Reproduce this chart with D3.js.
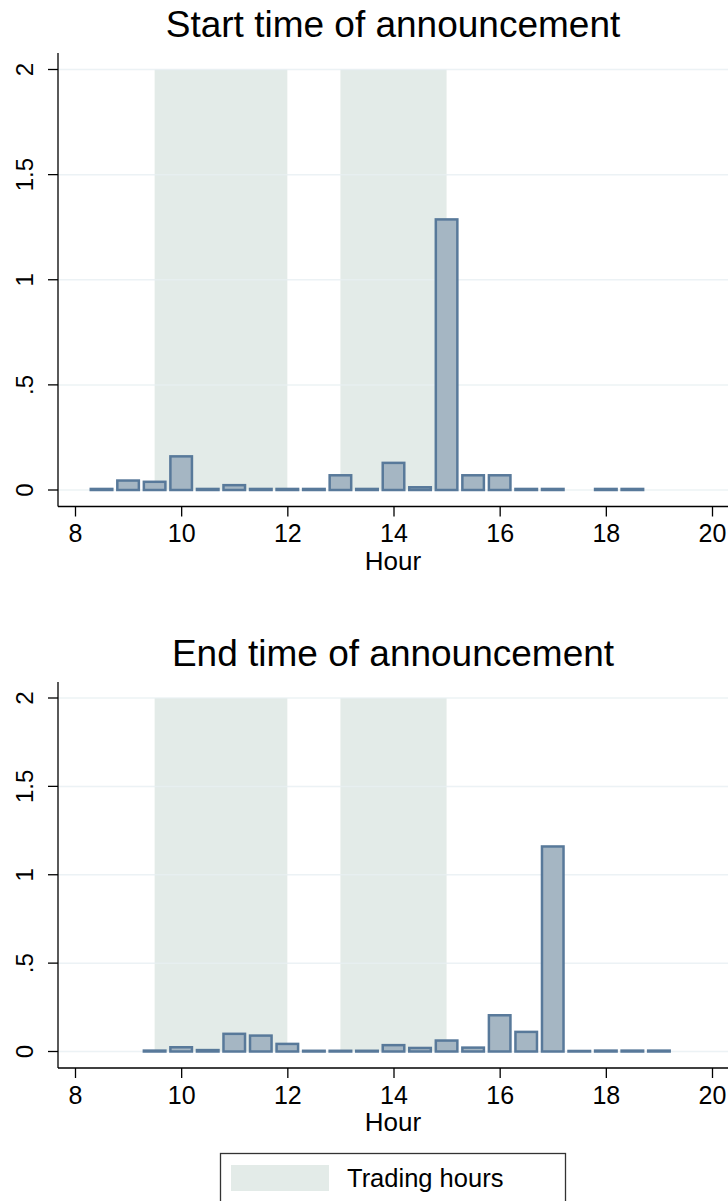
<!DOCTYPE html>
<html>
<head>
<meta charset="utf-8">
<script src="https://cdn.jsdelivr.net/npm/d3@7"></script>
<style>
  body { margin: 0; background: #fff; }
  text { font-family: "Liberation Sans", Arial, Helvetica, sans-serif; fill: #000; }
</style>
</head>
<body>
<div id="chart"></div>
<script>
// bins are half-hour wide, values are densities
const startHours = [8.5, 9, 9.5, 10, 10.5, 11, 11.5, 12, 12.5, 13, 13.5, 14, 14.5, 15, 15.5, 16, 16.5, 17, 18, 18.5];
const startDensity = [0.005, 0.045, 0.039, 0.16, 0.005, 0.023, 0.005, 0.005, 0.005, 0.07, 0.005, 0.129, 0.013, 1.287, 0.07, 0.07, 0.005, 0.005, 0.005, 0.005];

const endHours = [9.5, 10, 10.5, 11, 11.5, 12, 12.5, 13, 13.5, 14, 14.5, 15, 15.5, 16, 16.5, 17, 17.5, 18, 18.5, 19];
const endDensity = [0.005, 0.024, 0.008, 0.1, 0.09, 0.043, 0.004, 0.004, 0.004, 0.036, 0.02, 0.062, 0.022, 0.205, 0.111, 1.16, 0.003, 0.005, 0.005, 0.005];

const tradingStart = [9.5, 13];
const tradingEnd = [12, 15];

const xTicks = [8, 10, 12, 14, 16, 18, 20];
const yTicks = [0, 0.5, 1, 1.5, 2];
const yTickLabels = ["0", ".5", "1", "1.5", "2"];

const width = 728;
const height = 1201;
const binWidth = 0.5;

const shadeColor = "#e3ebe8";
const gridColor = "#e8f0f3";
const barFill = "#a5b6c3";
const barStroke = "#58799a";

const svg = d3.select("#chart")
  .append("svg")
  .attr("width", width)
  .attr("height", height);

const x = d3.scaleLinear().domain([8, 20]).range([75, 712]);

const panels = [
  { title: "Start time of announcement", titleY: 37, hours: startHours, values: startDensity,
    y: d3.scaleLinear().domain([0, 2]).range([490, 69.5]), top: 53, bottom: 506.5 },
  { title: "End time of announcement", titleY: 666, hours: endHours, values: endDensity,
    y: d3.scaleLinear().domain([0, 2]).range([1051.5, 698]), top: 682, bottom: 1068 }
];

panels.forEach(function (p) {
  const g = svg.append("g");
  const y = p.y;

  // trading hours shading
  g.selectAll("rect.shade")
    .data(tradingStart.map((s, i) => [s, tradingEnd[i]]))
    .join("rect")
    .attr("class", "shade")
    .attr("x", (d) => x(d[0]))
    .attr("width", (d) => x(d[1]) - x(d[0]))
    .attr("y", y(2))
    .attr("height", y(0) - y(2))
    .attr("fill", shadeColor);

  // grid
  g.selectAll("line.grid")
    .data(yTicks)
    .join("line")
    .attr("class", "grid")
    .attr("x1", 58)
    .attr("x2", width)
    .attr("y1", (d) => y(d))
    .attr("y2", (d) => y(d))
    .attr("stroke", gridColor)
    .attr("stroke-width", 1.5)
    .attr("opacity", 0.8);

  // bars
  g.selectAll("rect.bar")
    .data(p.hours.map((h, i) => ({ h: h, v: p.values[i] })))
    .join("rect")
    .attr("class", "bar")
    .attr("x", (d) => x(d.h - binWidth / 2) + 2.5)
    .attr("width", (d) => x(d.h + binWidth / 2) - x(d.h - binWidth / 2) - 5)
    .attr("y", (d) => y(d.v))
    .attr("height", (d) => y(0) - y(d.v))
    .attr("fill", barFill)
    .attr("stroke", barStroke)
    .attr("stroke-width", 2.5);

  // y axis
  g.append("line")
    .attr("x1", 58).attr("x2", 58)
    .attr("y1", p.top).attr("y2", p.bottom)
    .attr("stroke", "#000").attr("stroke-width", 1.3);

  g.selectAll("line.ytick")
    .data(yTicks)
    .join("line")
    .attr("class", "ytick")
    .attr("x1", 48).attr("x2", 58)
    .attr("y1", (d) => y(d)).attr("y2", (d) => y(d))
    .attr("stroke", "#000").attr("stroke-width", 1.3);

  g.selectAll("text.ylab")
    .data(yTicks)
    .join("text")
    .attr("class", "ylab")
    .attr("transform", (d) => `translate(33,${y(d)}) rotate(-90)`)
    .attr("text-anchor", "middle")
    .style("font-size", "24px")
    .text((d, i) => yTickLabels[i]);

  // x axis
  const xAxis = d3.axisBottom(x)
    .tickValues(xTicks)
    .tickSize(10)
    .tickPadding(8)
    .tickFormat(d3.format("d"));

  const ax = g.append("g")
    .attr("transform", `translate(0,${p.bottom})`)
    .call(xAxis);
  ax.select(".domain").remove();
  ax.selectAll(".tick line").attr("stroke", "#000").attr("stroke-width", 1.3);
  ax.selectAll(".tick text")
    .attr("fill", "#000")
    .style("font-size", "25px")
    .style("font-family", '"Liberation Sans", Arial, Helvetica, sans-serif');

  g.append("line")
    .attr("x1", 58).attr("x2", width)
    .attr("y1", p.bottom).attr("y2", p.bottom)
    .attr("stroke", "#000").attr("stroke-width", 1.3);

  g.append("text")
    .attr("x", 393)
    .attr("y", p.bottom + 63)
    .attr("text-anchor", "middle")
    .style("font-size", "26px")
    .text("Hour");

  // title
  g.append("text")
    .attr("x", 393)
    .attr("y", p.titleY)
    .attr("text-anchor", "middle")
    .style("font-size", "37px")
    .text(p.title);
});

// legend
const legend = svg.append("g");
legend.append("rect")
  .attr("x", 220.5).attr("y", 1153.5)
  .attr("width", 345).attr("height", 60)
  .attr("fill", "#fff")
  .attr("stroke", "#333").attr("stroke-width", 1.3);
legend.append("rect")
  .attr("x", 231).attr("y", 1165)
  .attr("width", 98).attr("height", 26)
  .attr("fill", shadeColor);
legend.append("text")
  .attr("x", 347).attr("y", 1187)
  .style("font-size", "25.5px")
  .text("Trading hours");
</script>
</body>
</html>
